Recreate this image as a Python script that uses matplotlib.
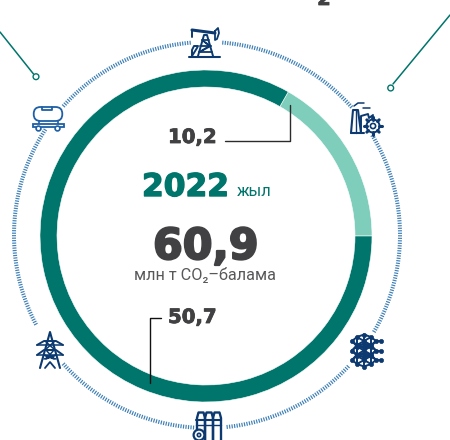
import numpy as np
import matplotlib
matplotlib.use('Agg')
import matplotlib.pyplot as plt
import matplotlib.patheffects as pe
from matplotlib.collections import LineCollection
from matplotlib.patches import Circle, FancyBboxPatch, Rectangle

# data
segment_labels = ['10,2', '50,7']
segment_values = [10.2, 50.7]
segment_colors = ['#7FCDBB', '#00756C']
total_label = '60,9'
year_label = '2022'
year_unit = 'жыл'
unit_label = 'млн т CO₂–балама'

W, H = 450, 440
TEAL = '#00756C'
GREY = '#414143'
NAVY = '#0C3A70'
BLUE = '#1E5FA5'
RING = '#3D7FB6'

fig = plt.figure(figsize=(W / 100, H / 100), dpi=100)
ax = fig.add_axes([0, 0, 1, 1])
Y = lambda y: H - y

cx, cy = 206, 236
R = 166
ax.pie(segment_values, colors=segment_colors, startangle=0, counterclock=True,
       center=(cx, Y(cy)), radius=R, frame=True,
       wedgeprops=dict(width=17, edgecolor='white', linewidth=0.4))
ax.set_xlim(0, W)
ax.set_ylim(0, H)
ax.set_aspect('equal')
ax.axis('off')

# dashed ring between icons
rx, ry, rr = 207, 235, 193
arcs = [(-84, -43), (-30, 31), (41.6, 85.3), (95, 138), (147, 207.5), (222, 266)]
segs = []
for a0, a1 in arcs:
    n = int(np.radians(a1 - a0) * rr / 2.45)
    for a in np.radians(np.linspace(a0, a1, n)):
        c, s = np.cos(a), np.sin(a)
        segs.append([(rx + (rr - 2) * c, Y(ry) + (rr - 2) * s),
                     (rx + (rr + 2) * c, Y(ry) + (rr + 2) * s)])
ax.add_collection(LineCollection(segs, colors=RING, linewidths=0.85))


def line(xs, ys, color=NAVY, lw=1.3, **kw):
    ax.plot(xs, [Y(v) for v in ys], color=color, lw=lw, solid_capstyle='round',
            solid_joinstyle='round', **kw)


def circ(x, y, r, color=NAVY, lw=1.1, fc='white', z=3):
    ax.add_patch(Circle((x, Y(y)), r, fc=fc, ec=color, lw=lw, zorder=z))


def heavy(x, y, s, size, color, stroke):
    t = ax.text(x, Y(y), s, fontsize=size, fontweight='bold', color=color, family='DejaVu Sans')
    t.set_path_effects([pe.withStroke(linewidth=stroke, foreground=color)])
    return t


# teal callout lines cut by the crop
line([0, 33.5], [32, 74], TEAL, 1.1)
circ(36, 76.7, 2.9, TEAL, 1.0)
line([450, 393], [15, 84], TEAL, 1.1)
circ(390.7, 88, 2.9, TEAL, 1.0)

# leader lines
line([225, 290, 290], [141, 141, 105], '#2b2b2b', 1.0)
line([161, 149.5, 149.5], [318, 318, 383], '#111111', 1.0)

# text
heavy(142, 196, year_label, 22.5, TEAL, 1.0)
ax.text(237, Y(195.5), year_unit, fontsize=11.8, color=TEAL, family='Roboto')
heavy(153, 259, total_label, 30.8, GREY, 1.5)
ax.text(134, Y(280), unit_label, fontsize=11.7, color='#58585a', family=['Roboto', 'DejaVu Sans'])
heavy(168, 143, segment_labels[0], 14.2, GREY, 0.6)
heavy(168, 323, segment_labels[1], 14.2, GREY, 0.6)
heavy(324, 5, '2', 14, GREY, 0.6).set_ha('center')

# pump icon
line([189, 220], [57, 57], lw=1.5)
line([198, 204, 207, 213], [56, 35, 35, 56], lw=1.4)
line([199, 212], [52, 52]); line([200, 211], [46, 46]); line([202, 209], [40, 40])
line([199, 209, 202, 211, 200], [52, 46, 40, 46, 52], lw=1.0)
line([192, 215], [30, 33], lw=2.2)
line([192, 192], [30, 37], lw=1.4)
line([215, 218, 219, 217, 215, 215], [31, 28, 33, 39, 40, 31], lw=1.3)
line([192, 197, 198, 194, 192, 192], [56, 48, 46, 46, 50, 56], lw=1.4)

# tank car icon
ax.add_patch(FancyBboxPatch((33.7, Y(121)), 28.6, 14, boxstyle='round,pad=0,rounding_size=6.8',
                            fc='white', ec=BLUE, lw=1.3, zorder=4))
line([42, 42, 52, 52], [107, 110, 110, 107], BLUE, 1.3, zorder=5)
ax.add_patch(Rectangle((32.5, Y(127)), 31.5, 3.5, fc='white', ec=BLUE, lw=1.3, zorder=4))
line([38.5, 38.5], [121, 124], BLUE, 1.2)
line([57.5, 57.5], [121, 124], BLUE, 1.2)
circ(38.5, 128.5, 2.4, BLUE, 1.2, z=5)
circ(57.5, 128.5, 2.4, BLUE, 1.2, z=5)

# factory icon
line([351, 353, 358, 361], [133, 110, 110, 133], lw=1.5)
line([351, 364], [133, 133], lw=1.5)
line([355.5, 355.5], [110, 133], lw=1.0)
line([361, 361, 368, 369, 373, 372], [133, 116, 114, 118, 115, 119], lw=1.4)
line([354, 358, 364], [106, 103, 103], lw=1.1); line([363, 370], [108, 108], lw=1.1)
for a in np.radians(np.arange(0, 360, 45)):
    line([373 + 6.4 * np.cos(a), 373 + 8.7 * np.cos(a)], [126 + 6.4 * np.sin(a), 126 + 8.7 * np.sin(a)], lw=2.2, zorder=6)
circ(373, 126, 6.5, NAVY, 1.4, z=5)
circ(373, 126, 2.6, NAVY, 1.2, z=6)

# lattice icon
nodes = []
for yy in (341, 350.5, 360):
    for dx, dy in [(-12, 0), (-7, -4), (-7, 4), (0, -6.5), (0, 0), (0, 6.5), (7, -4), (7, 4), (12, 0)]:
        nodes.append((364 + dx, yy + dy))
nodes = list(dict.fromkeys(nodes))
ends = [(381, 341), (381, 350.5), (381, 360)]
for i, p in enumerate(nodes + ends):
    for q in (nodes + ends)[i + 1:]:
        if np.hypot(p[0] - q[0], p[1] - q[1]) < 8.6:
            line([p[0], q[0]], [p[1], q[1]], lw=1.4, zorder=4)
ax.scatter([p[0] for p in nodes + ends], [Y(p[1]) for p in nodes + ends], s=9, c=NAVY,
           edgecolors=NAVY, linewidths=0.5, zorder=5)

# pylon icon
line([40, 50, 60], [368, 332, 368], lw=1.5)
line([45, 50, 55], [368, 362, 368], lw=1.3)
line([37, 44, 56, 63], [345, 341, 341, 345], lw=1.4)
line([37, 44, 56, 63], [355, 350, 350, 355], lw=1.4)
line([37, 63], [345, 345], lw=1.1); line([37, 63], [355, 355], lw=1.1)
line([45, 55, 46, 54, 44, 56], [341, 350, 350, 359, 355, 359], lw=1.1)
line([55, 45, 54, 46, 56, 44], [341, 350, 350, 359, 355, 359], lw=1.1)

# gas cylinder icon
for x0 in (197, 205, 213):
    line([x0, x0, x0 + 1.5, x0 + 6.5, x0 + 8, x0 + 8], [440, 418, 412.5, 412.5, 418, 440], lw=1.7)
line([196, 221], [420, 420], lw=1.5)
line([196, 221], [425, 425], lw=1.0)
ax.add_patch(Circle((199, Y(435)), 5.4, fc='white', ec=NAVY, lw=1.6, zorder=5))
circ(199, 435, 1.7, NAVY, 1.2, z=6)

fig.savefig('out.png', dpi=100)
